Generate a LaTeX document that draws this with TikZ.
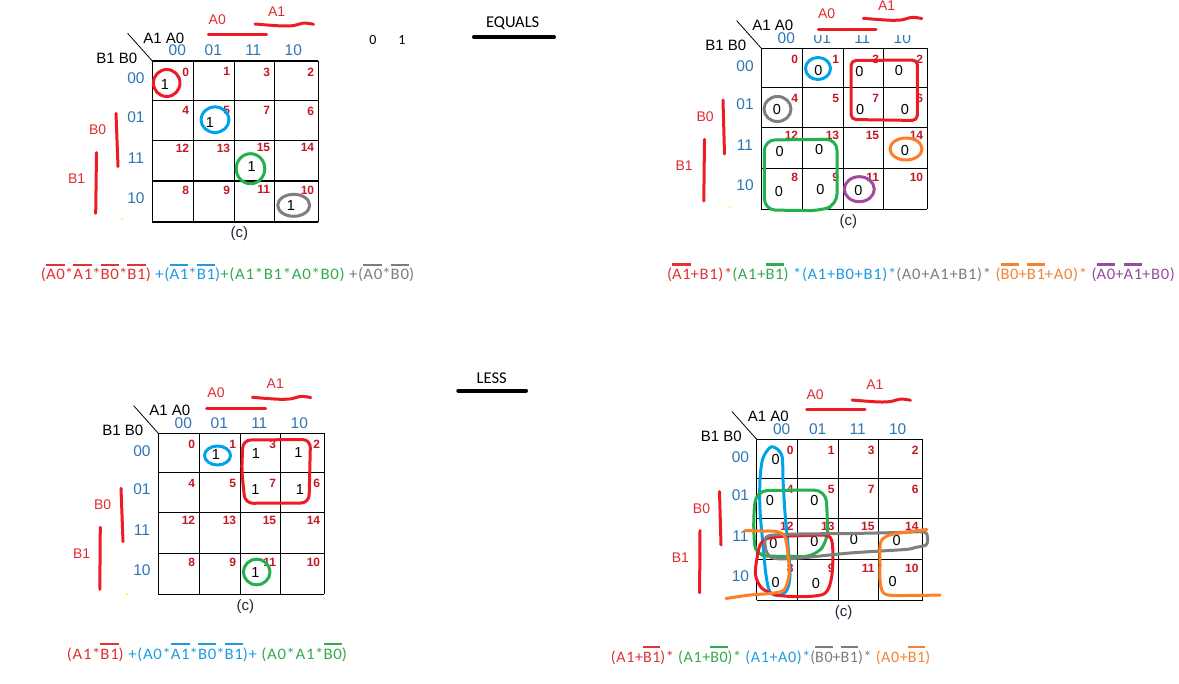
\documentclass[tikz,border=0pt]{standalone}
\usepackage{fontspec}
\setmainfont{Liberation Sans}
\newfontfamily\calib{Carlito}
\newfontfamily\xf[LetterSpace=4]{Carlito}
\definecolor{pred}{RGB}{237,28,36}
\definecolor{pblue}{RGB}{0,162,232}
\definecolor{pgreen}{RGB}{34,177,76}
\definecolor{pgray}{RGB}{127,127,127}
\definecolor{porange}{RGB}{255,127,39}
\definecolor{ppurple}{RGB}{163,73,164}
\definecolor{lblue}{RGB}{46,117,182}
\definecolor{numred}{RGB}{196,24,36}
\definecolor{lred}{RGB}{226,44,48}
\definecolor{ered}{RGB}{225,50,55}
\definecolor{eblue}{RGB}{30,155,225}
\definecolor{egreen}{RGB}{50,170,80}
\definecolor{egray}{RGB}{125,125,125}
\definecolor{eorange}{RGB}{245,130,50}
\definecolor{epurple}{RGB}{150,75,160}
\definecolor{capc}{RGB}{35,35,55}
\newcommand{\ob}[1]{\setbox0=\hbox{#1}\rlap{\raisebox{\dimexpr\ht0+3.5pt\relax}{\rule{\wd0}{2.3pt}}}\box0}
\tikzset{
 gridline/.style={line width=1.1pt, black},
 cellnum/.style={font=\bfseries\fontsize{12}{12}\selectfont, text=numred, anchor=north east, inner sep=0},
 collab/.style={font=\fontsize{15.5}{16}\selectfont, text=lblue, inner sep=0},
 hdr/.style={font=\fontsize{15}{16}\selectfont, inner sep=0},
 capt/.style={font=\fontsize{15}{16}\selectfont, text=capc, inner sep=0},
 val/.style={font=\fontsize{14.5}{14.5}\selectfont, inner sep=0},
 redlab/.style={font=\fontsize{14}{14}\selectfont, text=lred, inner sep=0},
 hand/.style={line width=3pt, line cap=round, line join=round},
 expr/.style={font=\xf\fontsize{16}{18}\selectfont, anchor=base west, inner sep=0},
 ttl/.style={font=\calib\fontsize{16.5}{18}\selectfont, inner sep=0},
}
\newcommand{\kmap}[3]{%
\begin{scope}[shift={(#2,#3)}]
\foreach \cx in {0,41,82,122,166} \draw[gridline] (\cx,0) -- (\cx,161);
\foreach \ry in {0,39.5,79.5,120,161} \draw[gridline] (0,\ry) -- (166,\ry);
\coordinate (#1tl) at (0,0);
\coordinate (#1d) at (-24.7,-27.7);
\draw[line width=0.8pt] (#1d) -- (#1tl);
\node[hdr] (#1a) at (11.5,-23) {A1 A0};
\node[hdr] (#1b) at (-35.5,-2.5) {B1 B0};
\foreach \cl/\xx in {00/25,01/61,11/101,10/141} \node[collab] (#1c\cl) at (\xx,-10.5) {\cl};
\foreach \cl/\yy in {00/17.5,01/56,11/97,10/137} \node[collab] (#1r\cl) at (-16.3,\yy) {\cl};
\foreach \rb/\rt/\ro in {0/0/6.5,4/39.5/6,12/79.5/3,8/120/4.5}
  \foreach \cb/\cr in {0/41,1/82,3/122,2/166} {
    \pgfmathtruncatemacro\num{\rb+\cb}
    \node[cellnum] (#1n\num) at (\cr-4,\rt+\ro) {\num};
  }
\node[capt] (#1cap) at (87,173) {(c)};
\end{scope}}
\newcommand{\wavy}[2]{\draw[hand,pred] plot[smooth] coordinates {(#1,#2) (#1+12,#2+1) (#1+28,#2+2) (#1+39,#2+1.5) (#1+47,#2-0.7) (#1+53,#2-0.7) (#1+58.5,#2+0.3)};}
\begin{document}
\begin{tikzpicture}[x=1pt,y=-1pt]
\useasboundingbox[fill=white] (0,0) rectangle (1179,684);
% ---------- titles ----------
\node[ttl] (teq) at (512.7,23.5) {EQUALS};
\coordinate (teqa) at (474,37.3); \coordinate (teqb) at (554,37.3);
\draw[line width=4pt, line cap=round] (teqa) -- (teqb);
\node[ttl] (tls) at (491.7,378.3) {LESS};
\coordinate (tlsa) at (458.3,390.7); \coordinate (tlsb) at (526,390.7);
\draw[line width=4pt, line cap=round] (tlsa) -- (tlsb);
\node[font=\calib\fontsize{14}{14}\selectfont, inner sep=0] (z0) at (373,40.5) {0};
\node[font=\calib\fontsize{14}{14}\selectfont, inner sep=0] (z1) at (402,40.5) {1};
% ---------- map 1 ----------
\kmap{K1}{152.3}{61}
\node[redlab] (K1A0) at (217.3,20) {A0};
\node[redlab] (K1A1) at (276.7,11.7) {A1};
\node[redlab] (K1B0) at (97.7,130) {B0};
\node[redlab] (K1B1) at (76.7,179) {B1};
\draw[hand,pred] (208.3,35) -- (266.7,35);
\wavy{255}{24}
\draw[hand,pred] (116,113.3) -- (118,166.7);
\draw[hand,pred] (96.5,152.7) -- (95.7,213.3);
\fill[yellow] (122.3,219) circle (1);
\node[val] (K1v0) at (165,84.3) {1};
\node[val] (K1v5) at (210,122.7) {1};
\node[val] (K1v15) at (251.7,166.7) {1};
\node[val] (K1v10) at (291,206) {1};
\draw[hand,pred] (166.7,83) ellipse (13.3 and 13.5);
\draw[hand,pblue] (215,119.7) ellipse (14 and 12.8);
\draw[hand,pgreen] (250.5,168.7) ellipse (14.3 and 15);
\draw[hand,pgray] (293.7,205.3) ellipse (16 and 11);
% ---------- map 2 ----------
\kmap{K2}{761.3}{48.3}
\fill[white] (801,28) rectangle (916,35.3);
\node[redlab] (K2A0) at (826.7,14) {A0};
\node[redlab] (K2A1) at (886.7,5.5) {A1};
\node[redlab] (K2B0) at (705.2,116.7) {B0};
\node[redlab] (K2B1) at (684.1,165.7) {B1};
\draw[hand,pred] (818.3,29.3) -- (876,29.3);
\wavy{863.3}{18.3}
\draw[hand,pred] (723,100) -- (724.5,154);
\draw[hand,pred] (704.5,139.3) -- (703.8,201);
\fill[yellow] (729.9,206.7) circle (1);
\foreach \nm/\px/\py in {1/818.5/70.7, 3/859.4/71.7, 2/898.9/70.3, 7/860.1/109.3, 6/904.8/110, 4/777/109.3, 12/779.7/151.7, 13/819.2/149.3, 8/779/191.7, 9/820.3/189.3, 14/904.8/150.7, 11/858.3/190.7}
  \node[val] (K2v\nm) at (\px,\py) {0};
\draw[hand,pblue] (818,68.5) ellipse (12.5 and 11);
\draw[hand,pred] (851,60.5) [rounded corners=5] -- (917.5,60) -- (917.3,120.5) -- (851,119.5) -- cycle;
\draw[hand,pgray] (777.5,109) ellipse (13.5 and 12.5);
\draw[hand,pgreen,rounded corners=11] (764.2,140) -- (837,139.3) -- (837,205) -- (820,210.7) -- (764.5,210) -- cycle;
\draw[hand,porange] (906,149) ellipse (16 and 11);
\draw[hand,ppurple] (859.3,189.2) ellipse (15 and 12.5);
% ---------- map 3 ----------
\kmap{K3}{158.3}{433.3}
\node[redlab] (K3A0) at (216,392.3) {A0};
\node[redlab] (K3A1) at (275.3,384) {A1};
\node[redlab] (K3B0) at (102.7,505) {B0};
\node[redlab] (K3B1) at (81.7,553.3) {B1};
\draw[hand,pred] (206.7,408.3) -- (265.7,408.3);
\wavy{252.3}{397.3}
\draw[hand,pred] (121,488.3) -- (123,541.7);
\draw[hand,pred] (100.3,527.3) -- (99.8,589.3);
\fill[yellow] (127,594.3) circle (1);
\foreach \nm/\px/\py in {1/216/455, 3/256/454, 2/298.3/452.7, 7/255.3/489.3, 6/300/489.3, 11/255.3/572.3}
  \node[val] (K3v\nm) at (\px,\py) {1};
\draw[hand,pblue] (217.5,455.5) ellipse (13 and 9.5);
\draw[hand,pred,rounded corners=8] (243,440) -- (310.5,439.5) -- (309,503) -- (245,503.3) -- (241.7,470) -- cycle;
\draw[hand,pgreen] (256.7,572) ellipse (13.3 and 12.8);
% ---------- map 4 ----------
\kmap{K4}{756.7}{439.3}
\node[redlab] (K4A0) at (815.1,394.3) {A0};
\node[redlab] (K4A1) at (874.9,385) {A1};
\node[redlab] (K4B0) at (701.5,509) {B0};
\node[redlab] (K4B1) at (680.4,557.3) {B1};
\draw[hand,pred] (806.6,410) -- (865,410);
\wavy{852}{400}
\draw[hand,pred] (719.5,491.7) -- (721,545);
\draw[hand,pred] (700,530.7) -- (699.6,592.7);
\foreach \nm/\px/\py in {0/775.7/460, 4/770/500.7, 5/814.3/500.7, 12/773.3/543.3, 13/814.3/541.7, 15/854/539.3, 14/896.7/541, 8/775.7/582.7, 9/816/583.3, 10/892.7/581.7}
  \node[val] (K4v\nm) at (\px,\py) {0};
\draw[hand,pblue] plot[smooth cycle] coordinates {(771.7,446.7) (781.7,455) (783,480) (785,513) (788,545) (790,575) (787,590) (779,595.5) (770,592) (766,575) (763,545) (760,510) (760,480) (763,458)};
\draw[hand,pgreen,rounded corners=12] (756,490.5) -- (826,490) -- (828.3,540) -- (815,556.7) -- (755,556) -- (753.3,520) -- cycle;
\draw[hand,pred] plot[smooth cycle] coordinates {(778.3,536.7) (805,535.5) (828.3,536) (832.7,548) (831.7,576.7) (825,593.3) (803,596.7) (776.7,595) (761.7,588) (755.5,575) (756.7,560) (760,545) (766,539)};
\draw[hand,pgray] plot[smooth cycle] coordinates {(770,535.5) (800,534) (850,533.5) (900,532.5) (924,532) (927.5,538) (926,545) (915,547.5) (905,549.5) (850,553) (800,558) (775,558.5) (767,553) (765,541)};
\draw[hand,porange] plot[smooth] coordinates {(745,530.5) (760,531) (777,531.5) (785,537) (788,555) (789,575) (784,590) (770,593.5) (750,595) (726,598.5)};
\draw[hand,porange] plot[smooth] coordinates {(927,529.5) (900,533) (887,536) (880.5,543) (880,565) (880.5,585) (886,594.5) (910,595.5) (940,595)};
% ---------- expressions ----------
\node[expr,xscale=1.052] (e1) at (40.7,280) {{\color{ered}(\ob{A0}*\ob{A1}*\ob{B0}*\ob{B1})}{\color{eblue}\ +(\ob{A1}*\ob{B1})}{\color{egreen}+(A1*B1*A0*B0)}{\color{egray}\ +(\ob{A0}*\ob{B0})}};
\node[expr,xscale=1.036] (e2) at (666.8,279.5) {{\color{ered}(\ob{A1}+B1)*}{\color{egreen}(A1+\ob{B1})\ }{\color{eblue}*(A1+B0+B1)*}{\color{egray}(A0+A1+B1)*}{\color{eorange}\ (\ob{B0}+\ob{B1}+A0)*}{\color{epurple}\ (\ob{A0}+\ob{A1}+B0)}};
\node[expr,xscale=1.046] (e3) at (66.7,659) {{\color{ered}(A1*\ob{B1})}{\color{eblue}\ +(A0*\ob{A1}*\ob{B0}*\ob{B1})+}{\color{egreen}\ (A0*A1*\ob{B0})}};
\node[expr] (e4) at (610.7,662) {{\color{ered}(A1+\ob{B1})*}{\color{egreen}\ (A1+\ob{B0})*}{\color{eblue}\ (A1+A0)*}{\color{egray}(\ob{B0}+\ob{B1})*}{\color{eorange}\ (A0+\ob{B1})}};
\end{tikzpicture}
\end{document}
